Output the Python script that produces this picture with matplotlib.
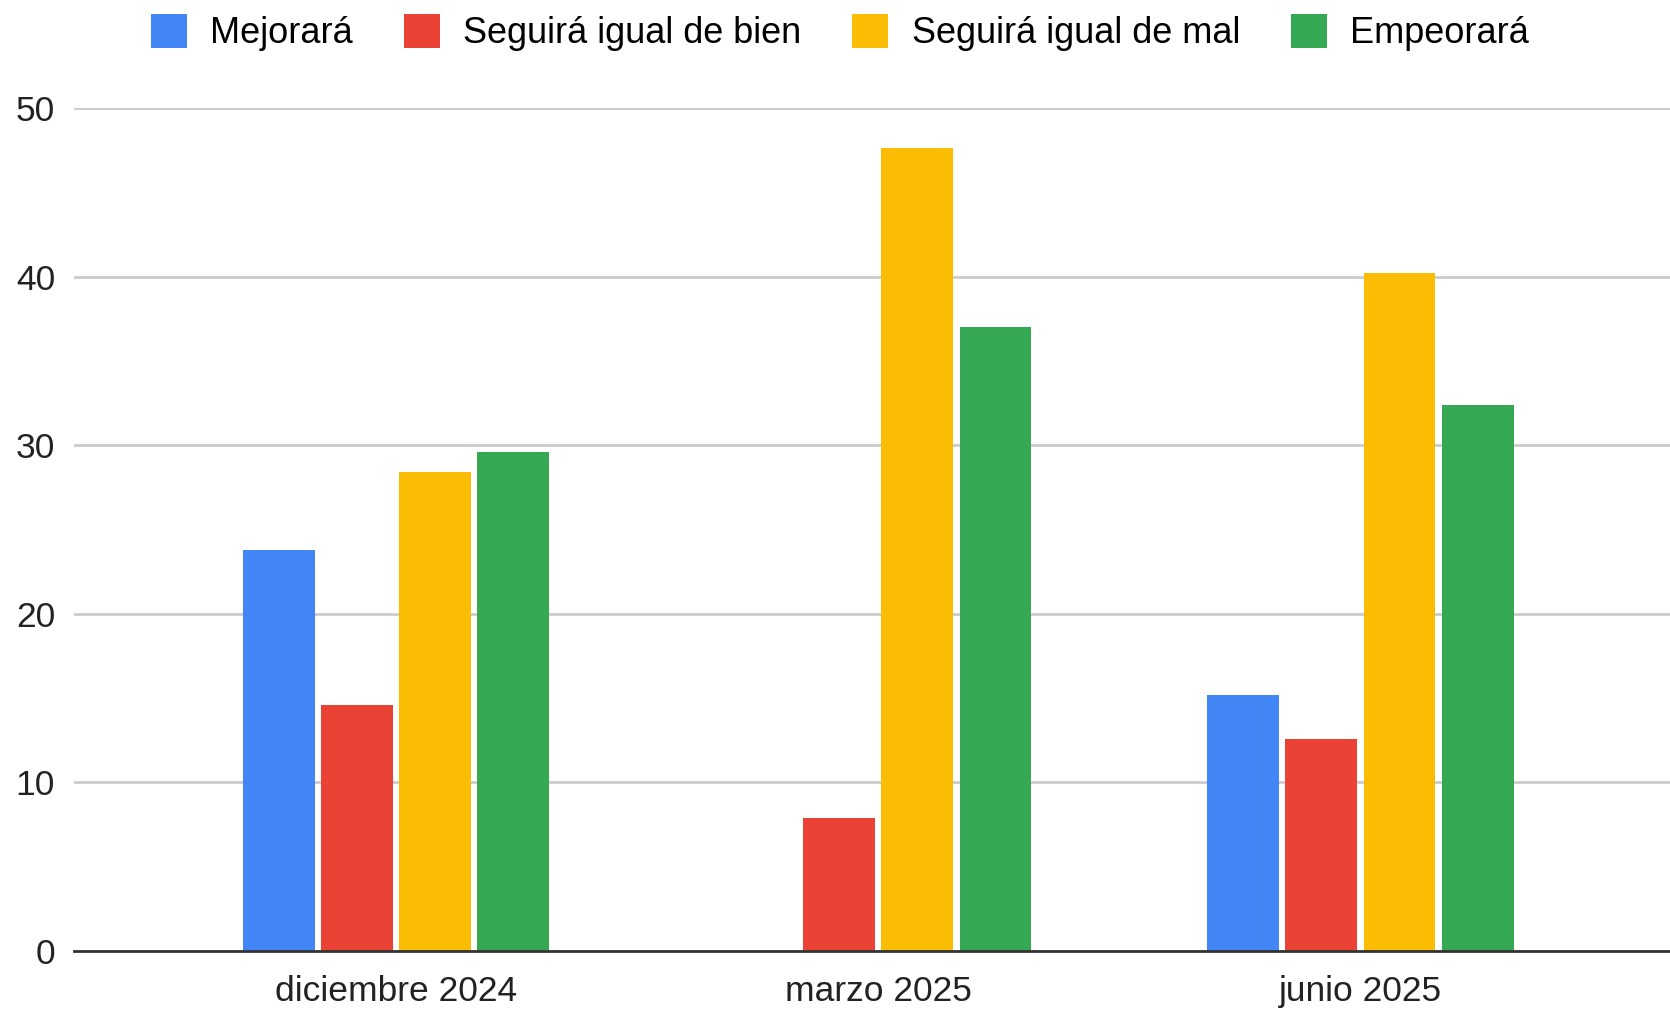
import numpy as np
import matplotlib.pyplot as plt

# periods and survey answers (percent)
periods = ["diciembre 2024", "marzo 2025", "junio 2025"]
series = ["Mejorará", "Seguirá igual de bien", "Seguirá igual de mal", "Empeorará"]
mejorara = [23.8, 0.0, 15.2]
igual_bien = [14.6, 7.9, 12.6]
igual_mal = [28.4, 47.6, 40.2]
empeorara = [29.6, 37.0, 32.4]
colors = ["#4285F4", "#EA4335", "#FBBC04", "#34A853"]

plt.rcParams['font.family'] = ['Liberation Sans', 'DejaVu Sans']

fig = plt.figure(figsize=(16.7, 10.1), dpi=100)
ax = fig.add_axes([0.0446, 0.0584, 0.9554, 0.8347])

x = np.arange(len(periods))
step = 0.162
width = 0.149
values = [mejorara, igual_bien, igual_mal, empeorara]
for i, (name, vals, col) in enumerate(zip(series, values, colors)):
    ax.bar(x + (i - 1.5) * step, vals, width=width, color=col, label=name, zorder=3)

ax.set_ylim(0, 50)
ax.set_xlim(-0.667, 2.642)
ax.set_yticks([0, 10, 20, 30, 40, 50])
ax.set_xticks(x)
ax.set_xticklabels(periods)
ax.tick_params(axis='both', length=0, labelsize=25.5, colors='#222222')
ax.tick_params(axis='y', pad=14)
ax.tick_params(axis='x', pad=17)

ax.grid(axis='y', color='#cccccc', linewidth=2, zorder=0)
for s in ['top', 'right', 'left']:
    ax.spines[s].set_visible(False)
ax.spines['bottom'].set_color('#333333')
ax.spines['bottom'].set_linewidth(2)
ax.spines['bottom'].set_zorder(4)

ax.legend(loc='center', bbox_to_anchor=(0.503, 0.968), bbox_transform=fig.transFigure,
          ncol=4, frameon=False, fontsize=26, handlelength=1.0, handleheight=1.1,
          handletextpad=0.65, columnspacing=1.4)

fig.savefig("out.png", dpi=100, facecolor='white')
